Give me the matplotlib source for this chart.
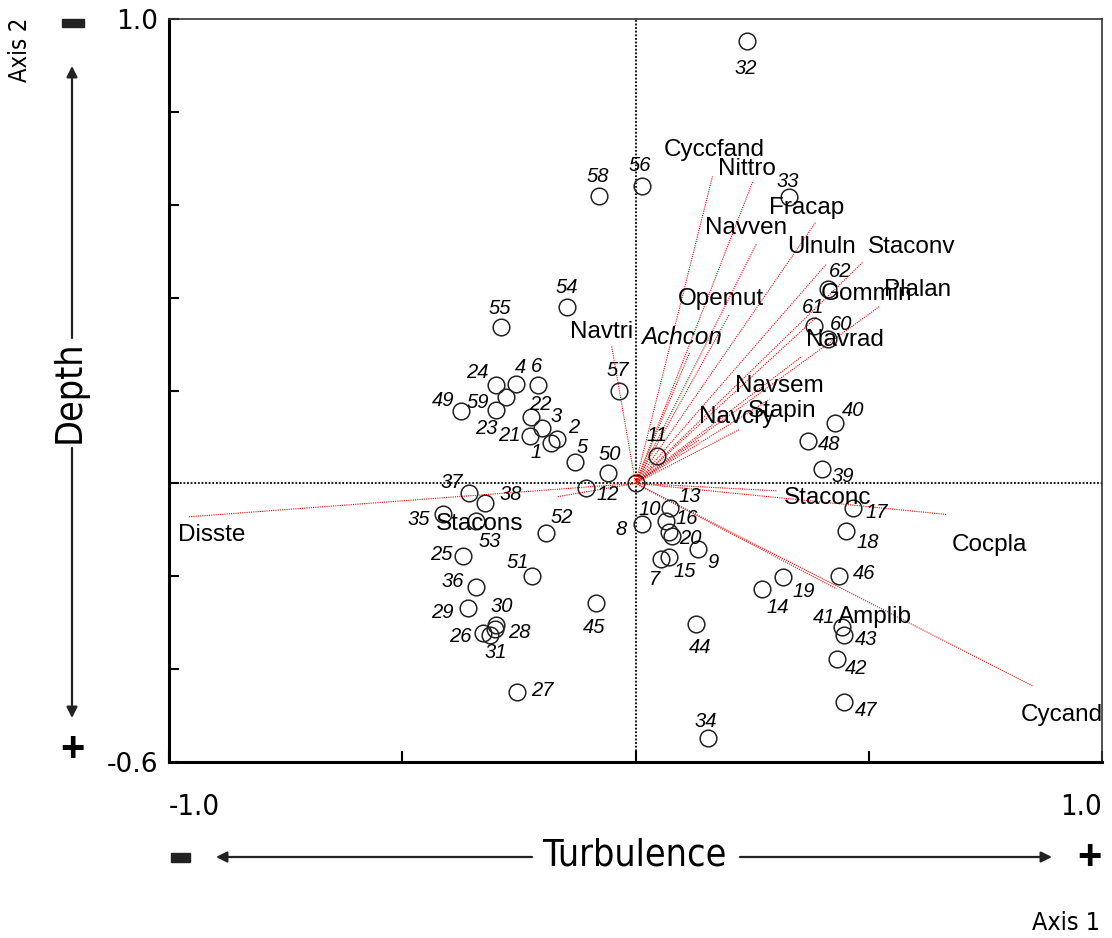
import matplotlib
matplotlib.use("Agg")
import matplotlib.pyplot as plt
from matplotlib.patches import Rectangle

# ---------------- data ----------------
site_ids = list(range(1, 63))
site_x = [-0.182, -0.169, -0.201, -0.257, -0.129, -0.210, 0.054, 0.013, 0.135, 0.066,
          0.047, -0.107, 0.073, 0.272, 0.071, 0.071, 0.467, 0.452, 0.317, 0.079,
          -0.227, -0.223, -0.300, -0.300, -0.369, -0.326, -0.253, -0.302, -0.360, -0.298,
          -0.311, 0.240, 0.330, 0.156, -0.412, -0.341, -0.356, -0.322, 0.399, 0.427,
          0.442, 0.431, 0.448, 0.129, -0.084, 0.437, 0.446, 0.369, -0.375, -0.060,
          -0.221, -0.191, -0.341, -0.146, -0.289, 0.013, -0.036, -0.079, -0.277, 0.412,
          0.382, 0.412]
site_y = [0.088, 0.096, 0.120, 0.215, 0.047, 0.211, -0.162, -0.087, -0.141, -0.082,
          0.060, -0.009, -0.052, -0.227, -0.158, -0.104, -0.052, -0.102, -0.201, -0.113,
          0.103, 0.142, 0.157, 0.211, -0.156, -0.322, -0.449, -0.313, -0.268, -0.305,
          -0.326, 0.952, 0.616, -0.548, -0.065, -0.223, -0.020, -0.042, 0.030, 0.131,
          -0.309, -0.378, -0.326, -0.303, -0.258, -0.199, -0.470, 0.092, 0.155, 0.023,
          -0.199, -0.106, -0.082, 0.379, 0.336, 0.640, 0.200, 0.618, 0.185, 0.310,
          0.338, 0.419]

species = ["Cyccfand", "Nittro", "Fracap", "Navven", "Ulnuln", "Staconv", "Plalan",
           "Gommin", "Navrad", "Opemut", "Achcon", "Navtri", "Navsem", "Stapin",
           "Navcry", "Staconc", "Cocpla", "Amplib", "Cycand", "Disste", "Stacons"]
species_x = [0.165, 0.251, 0.386, 0.259, 0.409, 0.487, 0.523, 0.388, 0.356, 0.201,
             0.116, -0.051, 0.287, 0.223, 0.137, 0.302, 0.667, 0.431, 0.851, -0.958,
             -0.169]
species_y = [0.661, 0.649, 0.562, 0.515, 0.472, 0.476, 0.381, 0.358, 0.273, 0.364,
             0.282, 0.295, 0.181, 0.116, 0.094, -0.016, -0.067, -0.227, -0.436, -0.072,
             -0.029]

# ---------------- label layout ----------------
# species label centres (data units)
sp_label_xy = {
    "Cyccfand": (0.169, 0.717), "Nittro": (0.238, 0.676), "Fracap": (0.367, 0.594),
    "Navven": (0.238, 0.549), "Ulnuln": (0.399, 0.508), "Staconv": (0.592, 0.508),
    "Plalan": (0.605, 0.416), "Gommin": (0.495, 0.407), "Navrad": (0.448, 0.308),
    "Opemut": (0.184, 0.398), "Achcon": (0.099, 0.314), "Navtri": (-0.073, 0.327),
    "Navsem": (0.309, 0.209), "Stapin": (0.315, 0.155), "Navcry": (0.217, 0.142),
    "Staconc": (0.412, -0.031), "Cocpla": (0.759, -0.132), "Amplib": (0.514, -0.288),
    "Cycand": (0.913, -0.499), "Disste": (-0.909, -0.111), "Stacons": (-0.334, -0.087),
}
# site number offsets (pixels, x right / y down)
site_off = {
    1: (-14, 10), 2: (17, -11), 3: (14, -11), 4: (5, -16), 5: (7, -14), 6: (-1, -19),
    7: (-6, 21), 8: (-20, 6), 9: (14, 14), 10: (-17, -12), 11: (0, -20), 12: (22, 7),
    13: (20, -11), 14: (15, 19), 15: (16, 15), 16: (18, -13), 17: (23, 5), 18: (21, 12),
    19: (20, 15), 20: (18, 3), 21: (-20, 0), 22: (9, -13), 23: (-9, 18), 24: (-18, -13),
    25: (-22, -1), 26: (-23, 4), 27: (25, -1), 28: (25, 4), 29: (-25, 5), 30: (5, -19),
    31: (5, 18), 32: (-2, 27), 33: (-2, -16), 34: (-2, -16), 35: (-25, 6), 36: (-24, -5),
    37: (-18, -10), 38: (25, -8), 39: (21, 7), 40: (18, -12), 41: (-18, -9), 42: (20, 10),
    43: (22, 5), 44: (4, 23), 45: (-2, 24), 46: (25, -2), 47: (23, 9), 48: (21, 4),
    49: (-17, -11), 50: (2, -18), 51: (-15, -13), 52: (15, -15), 53: (13, 20), 54: (-1, -20),
    55: (-1, -19), 56: (-2, -21), 57: (-1, -20), 58: (-1, -20), 59: (-28, 5), 60: (13, -15),
    61: (-1, -19), 62: (12, -17),
}

W, H = 1112, 938
fig = plt.figure(figsize=(W / 100, H / 100), dpi=100)
ax = fig.add_axes([169 / W, 1 - 762 / H, (1102 - 169) / W, (762 - 19) / H])
ax.set_xlim(-1.0, 1.0)
ax.set_ylim(-0.6, 1.0)

# zero lines
ax.axvline(0, color="black", linestyle=(0, (1, 1)), linewidth=1.3, zorder=1)
ax.axhline(0, color="black", linestyle=(0, (1, 1)), linewidth=1.3, zorder=1)

# species vectors
for name, sx, sy in zip(species, species_x, species_y):
    ax.plot([0, sx], [0, sy], color="red", linestyle=(0, (1, 1)), linewidth=0.8, zorder=2)
    lx, ly = sp_label_xy[name]
    ax.text(lx, ly, name, ha="center", va="center", fontsize=17.5,
            family="Liberation Sans", style="italic" if name == "Achcon" else "normal",
            zorder=4)

# sites
ax.plot(site_x, site_y, linestyle="none", marker="o", markersize=12,
        markerfacecolor="none", markeredgecolor="#222222", markeredgewidth=1.1, zorder=3)
ax.plot([0], [0], linestyle="none", marker="o", markersize=12,
        markerfacecolor="none", markeredgecolor="#222222", markeredgewidth=1.1, zorder=3)
for i, sx, sy in zip(site_ids, site_x, site_y):
    dx, dy = site_off[i]
    ax.annotate(str(i), (sx, sy), xytext=(dx, -dy), textcoords="offset pixels",
                ha="center", va="center", fontsize=14.5, style="italic",
                family="Liberation Sans", zorder=4)

# spines and ticks
for side in ("left", "bottom"):
    ax.spines[side].set_linewidth(2.2)
for side in ("top", "right"):
    ax.spines[side].set_linewidth(1.2)
    ax.spines[side].set_color("#333333")

cond = dict(family="DejaVu Sans", fontstretch="condensed")

ax.set_yticks([1.0, 0.8, 0.6, 0.4, 0.2, 0.0, -0.2, -0.4, -0.6])
ax.set_yticklabels(["1.0", "", "", "", "", "", "", "", "-0.6"],
                   fontsize=19, family="DejaVu Sans")
ax.set_xticks([-1.0, -0.5, 0.0, 0.5, 1.0])
ax.set_xticklabels(["-1.0", "", "", "", "1.0"], fontsize=21, **cond)
ax.tick_params(axis="y", direction="in", length=7, width=1.5, pad=8)
ax.tick_params(axis="x", direction="in", length=8, width=1.5, pad=22)
xl = ax.get_xticklabels()
xl[0].set_ha("left")
xl[-1].set_ha("right")

# axis titles with double arrows
fig.text(70 / W, 1 - 392 / H, "Depth", rotation=90, ha="center", va="center",
         fontsize=27, **cond)
fig.text(20 / W, 1 - 50 / H, "Axis 2", rotation=90, ha="center", va="center",
         fontsize=17, **cond)
fig.text(635 / W, 1 - 855 / H, "Turbulence", ha="center", va="center",
         fontsize=27, **cond)
fig.text(1066 / W, 1 - 923 / H, "Axis 1", ha="center", va="center",
         fontsize=18, **cond)

arrow_kw = dict(arrowstyle="-|>", color="#222222", lw=1.6, mutation_scale=16,
                shrinkA=0, shrinkB=0)
for (x0, y0), (x1, y1) in [((72, 338), (72, 66)), ((72, 448), (72, 718)),
                            ((532, 857), (216, 857)), ((740, 857), (1052, 857))]:
    ax.annotate("", xy=(x1, H - y1), xytext=(x0, H - y0),
                xycoords="figure pixels", textcoords="figure pixels",
                arrowprops=arrow_kw, annotation_clip=False)

# "-" bars and "+" signs
for (x0, y0, w, h) in [(62, 19, 22, 8), (171, 853, 19, 9)]:
    fig.patches.append(Rectangle((x0 / W, 1 - (y0 + h) / H), w / W, h / H,
                                 transform=fig.transFigure, color="#222222"))
fig.text(72 / W, 1 - 750 / H, "+", ha="center", va="center", fontsize=30,
         fontweight="bold", family="Liberation Sans")
fig.text(1089 / W, 1 - 858 / H, "+", ha="center", va="center", fontsize=30,
         fontweight="bold", family="Liberation Sans")

fig.savefig("out.png", dpi=100)
